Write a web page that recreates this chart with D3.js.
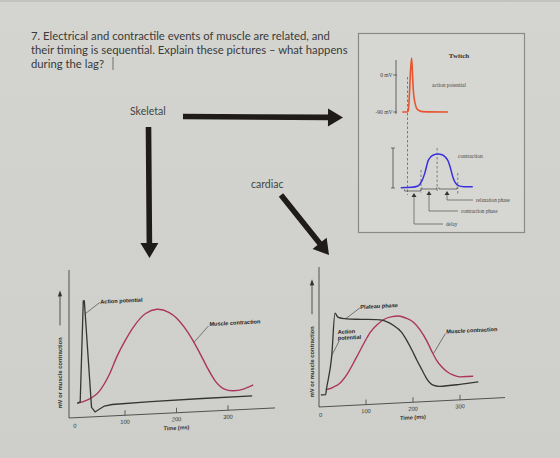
<!DOCTYPE html>
<html>
    <head>
        <script src="https://d3js.org/d3.v7.min.js"></script>
        <style>
            body { margin: 0; background-color: #d2d3ce; }
            svg { display: block; }
        </style>
    </head>
    <body>
        <div id="chart"></div>
        <script>
            // question text
            const titleLines = [
                "7. Electrical and contractile events of muscle are related, and",
                "their timing is sequential. Explain these pictures \u2013 what happens",
                "during the lag?"
            ];

            // twitch panel (top right): time in arbitrary units, AP in mV, contraction 0..1
            const twitchAP = [[3,-90],[9,-90],[11,-87],[12.5,-50],[14,10],[15.5,41],[16.5,10],[17.8,-39],[20,-68],[22.2,-81],[26,-87],[30,-89],[64,-90]];
            const twitchCon = [[1,0.01],[15,0.02],[24,0.06],[29,0.2],[33,0.43],[37.8,0.82],[44.4,0.97],[51,1.0],[56,0.98],[60,0.92],[64,0.8],[66.7,0.63],[71,0.29],[74,0.15],[77.8,0.07],[85,0.04],[97,0.04]];
            const twitchDash = [10, 28, 49.5, 77];
            const phases = [
                { name: "delay", from: 6, to: 28, mark: 18.7 },
                { name: "contraction phase", from: 29, to: 49, mark: 38.7 },
                { name: "relaxation phase", from: 52, to: 76, mark: 62.7 }
            ];

            // skeletal (bottom left): time ms, arbitrary mV / contraction units
            const skelAP = [[8,12],[13,13],[19,97],[21,97],[35,8],[42,4],[50,6],[60,8.5],[75,9.5],[150,10.3],[250,10.8],[347,11]];
            const skelCon = [[7,12],[25,14],[50,21],[70,35],[84,49],[100,62],[116,73],[140,84],[162,87],[185,84],[200,79],[215,71],[230,61],[245,49],[259,37],[275,25],[292,18],[310,16],[330,17],[349,20]];

            // cardiac (bottom right)
            const cardAP = [[4,12],[14,12],[16,18],[27,50],[34,93],[40,89],[55,87],[90,85.5],[130,84],[158,78],[175,71],[187,62],[198,52],[208,42],[219,32],[229,23],[243,16],[257,14.5],[300,15.5],[339,17]];
            const cardCon = [[16,17],[30,19],[45,23],[62,33],[80,48],[95,61],[109,72],[123,79],[137,84],[153,86.5],[169,87],[185,84.5],[201,80],[215,72],[229,61],[240,50],[250,41],[261,34],[272,29],[286,25],[300,23],[328,23]];

            const timeTicks = [100, 200, 300];

            const W = 560, H = 458;
            const svg = d3.select("#chart").append("svg").attr("width", W).attr("height", H);

            const grad = svg.append("defs").append("linearGradient").attr("id", "bg")
                .attr("x1", 0).attr("y1", 0).attr("x2", 0).attr("y2", 1);
            grad.append("stop").attr("offset", 0).attr("stop-color", "#d4d5d0");
            grad.append("stop").attr("offset", 1).attr("stop-color", "#cecfca");
            svg.append("rect").attr("width", W).attr("height", H).attr("fill", "url(#bg)");
            svg.append("rect").attr("width", W).attr("height", 2).attr("fill", "#c2c2be");

            const ink = "#3a3a3a";
            const apBlack = "#353533";
            const crimson = "#ac3460";

            // title
            svg.append("g").selectAll("text").data(titleLines).join("text")
                .attr("x", 31).attr("y", (d, i) => 40 + i * 14)
                .attr("font-family", "Lato, 'Open Sans', sans-serif").attr("font-size", 11.3)
                .attr("fill", ink).text(d => d);
            svg.append("line").attr("x1", 113).attr("x2", 113).attr("y1", 57).attr("y2", 70)
                .attr("stroke", "#555").attr("stroke-width", 0.8);

            // labels + arrows
            const label = (x, y, t) => svg.append("text").attr("x", x).attr("y", y)
                .attr("font-family", "Lato, 'Open Sans', sans-serif").attr("font-size", 10.5)
                .attr("fill", "#444").text(t);
            label(130, 115, "Skeletal");
            label(251, 188, "cardiac");

            function arrow(x1, y1, x2, y2) {
                const a = Math.atan2(y2 - y1, x2 - x1), len = Math.hypot(x2 - x1, y2 - y1);
                const hl = 15, hw = 9, sw = 2.8;
                const p = [[0,-sw],[len-hl,-sw],[len-hl,-hw],[len,0],[len-hl,hw],[len-hl,sw],[0,sw]];
                svg.append("path")
                    .attr("d", "M" + p.map(q => q.join(",")).join("L") + "Z")
                    .attr("transform", `translate(${x1},${y1}) rotate(${a * 180 / Math.PI})`)
                    .attr("fill", "#1f1b19");
            }
            arrow(183, 116.5, 343, 117.5);
            arrow(148.5, 127, 149.5, 258);
            arrow(281, 195, 329, 255);

            // ---------- twitch panel ----------
            svg.append("rect").attr("x", 358.5).attr("y", 33.5).attr("width", 166).attr("height", 199)
                .attr("fill", "#d6d7d2").attr("stroke", "#8a8a86").attr("stroke-width", 1.2);

            const xT = d3.scaleLinear([0, 100], [400, 475]);
            const yMv = d3.scaleLinear([-90, 0], [112, 75]);
            const yC = d3.scaleLinear([0, 1], [188, 154]);
            const serif = "'Liberation Serif', 'DejaVu Serif', serif";
            const tw = svg.append("g");

            tw.append("text").attr("x", 459).attr("y", 57.5).attr("text-anchor", "middle")
                .attr("font-family", serif).attr("font-weight", "bold").attr("font-size", 7)
                .attr("fill", "#333").text("Twitch");

            tw.append("line").attr("x1", 396).attr("x2", 396).attr("y1", 60).attr("y2", 114)
                .attr("stroke", "#444").attr("stroke-width", 0.8);
            [0, -90].forEach(v => {
                tw.append("line").attr("x1", 393).attr("x2", 397).attr("y1", yMv(v)).attr("y2", yMv(v))
                    .attr("stroke", "#444").attr("stroke-width", 0.7);
                tw.append("text").attr("x", 392.5).attr("y", yMv(v) + 2).attr("text-anchor", "end")
                    .attr("font-family", serif).attr("font-size", 5.5).attr("fill", "#444").text(v + " mV");
            });

            tw.append("line").attr("x1", 393).attr("x2", 393).attr("y1", 148).attr("y2", 188)
                .attr("stroke", "#444").attr("stroke-width", 0.8);
            [148, 188].forEach(y => tw.append("line").attr("x1", 391).attr("x2", 395).attr("y1", y).attr("y2", y)
                .attr("stroke", "#444").attr("stroke-width", 0.7));

            // dashed guides
            const dashSpan = [[77, 195], [170, 193], [148, 193], [173, 195]];
            tw.selectAll(".dash").data(twitchDash).join("line")
                .attr("x1", d => xT(d)).attr("x2", d => xT(d))
                .attr("y1", (d, i) => dashSpan[i][0]).attr("y2", (d, i) => dashSpan[i][1])
                .attr("stroke", "#555").attr("stroke-width", 0.7).attr("stroke-dasharray", "2.5,2");

            tw.append("path").datum(twitchAP)
                .attr("d", d3.line().x(d => xT(d[0])).y(d => yMv(d[1])).curve(d3.curveMonotoneX))
                .attr("fill", "none").attr("stroke", "#e8542f").attr("stroke-width", 1.6);
            tw.append("path").datum(twitchCon)
                .attr("d", d3.line().x(d => xT(d[0])).y(d => yC(d[1])).curve(d3.curveMonotoneX))
                .attr("fill", "none").attr("stroke", "#3b30dc").attr("stroke-width", 1.5);

            tw.append("text").attr("x", 432).attr("y", 87).attr("font-family", serif).attr("font-size", 5.5)
                .attr("fill", "#444").text("action potential");
            tw.append("text").attr("x", 458).attr("y", 158).attr("font-family", serif).attr("font-size", 5.5)
                .attr("fill", "#444").text("contraction");

            const bracketY = [191, 189, 189], leadY = [224, 211, 200], leadX = [443, 458, 473];
            phases.forEach((p, i) => {
                const by = bracketY[i], mx = xT(p.mark);
                tw.append("path")
                    .attr("d", `M${xT(p.from)},${by - 1.5}V${by}H${xT(p.to)}V${by - 1.5}`)
                    .attr("fill", "none").attr("stroke", "#444").attr("stroke-width", 0.7);
                tw.append("path").attr("d", `M${mx},${by + 2}L${mx - 2.5},${by + 6}L${mx + 2.5},${by + 6}Z`)
                    .attr("fill", "#333");
                tw.append("path").attr("d", `M${mx},${by + 6}V${leadY[i]}H${leadX[i]}`)
                    .attr("fill", "none").attr("stroke", "#555").attr("stroke-width", 0.7);
                tw.append("text").attr("x", leadX[i] + 3).attr("y", leadY[i] + 1.8)
                    .attr("font-family", serif).attr("font-size", 5.2).attr("fill", "#444").text(p.name);
            });

            // ---------- bottom charts ----------
            const sans = "'Liberation Sans', Arial, sans-serif";
            function panel(opt) {
                const g = svg.append("g").attr("transform", `translate(${opt.ox},${opt.oy}) skewY(${opt.skew})`);
                const x = d3.scaleLinear([0, 400], [opt.x0, opt.x0 + 400 * opt.kx]);
                const y = d3.scaleLinear([0, 100], [0, -100 * opt.ky]);

                g.append("line").attr("x1", 0).attr("x2", 0).attr("y1", 0).attr("y2", -opt.h)
                    .attr("stroke", "#444").attr("stroke-width", 0.9);
                g.append("line").attr("x1", 0).attr("x2", opt.w).attr("y1", 0).attr("y2", 0)
                    .attr("stroke", "#444").attr("stroke-width", 0.9);
                g.selectAll(".tk").data(timeTicks).join("line")
                    .attr("x1", d => x(d)).attr("x2", d => x(d)).attr("y1", 0).attr("y2", -5)
                    .attr("stroke", "#444").attr("stroke-width", 0.8);
                g.selectAll(".tl").data([0].concat(timeTicks)).join("text")
                    .attr("x", d => x(d) + (d === 0 ? 1.5 : 0)).attr("y", d => d === 0 ? 10 : 8.5)
                    .attr("text-anchor", "middle").attr("font-family", sans).attr("font-size", 5.8)
                    .attr("fill", "#333").text(d => d);
                g.append("text").attr("x", x(200)).attr("y", 17).attr("text-anchor", "middle")
                    .attr("font-family", sans).attr("font-weight", "bold").attr("font-size", 5.5)
                    .attr("fill", "#333").text("Time (ms)");

                // y label with arrow
                const yl = g.append("g").attr("transform", `translate(${opt.ylx},${opt.yly}) rotate(-90)`);
                yl.append("text").attr("x", 0).attr("y", 2).attr("font-family", sans).attr("font-weight", "bold")
                    .attr("font-size", 5.8).attr("fill", "#333").text("mV or muscle contraction");
                yl.append("line").attr("x1", 83).attr("x2", 114).attr("y1", 0).attr("y2", 0)
                    .attr("stroke", "#333").attr("stroke-width", 0.8);
                yl.append("path").attr("d", "M118,0L112,-2.2L112,2.2Z").attr("fill", "#333");

                const line = d3.line().x(d => x(d[0])).y(d => y(d[1])).curve(d3.curveMonotoneX);
                g.append("path").datum(opt.con).attr("d", line)
                    .attr("fill", "none").attr("stroke", crimson).attr("stroke-width", 1.4);
                g.append("path").datum(opt.ap).attr("d", opt.apLinear ? d3.line().x(d => x(d[0])).y(d => y(d[1])) : line)
                    .attr("fill", "none").attr("stroke", apBlack).attr("stroke-width", 1.3);

                opt.notes.forEach(n => {
                    g.append("line").attr("x1", x(n.from[0])).attr("y1", y(n.from[1]))
                        .attr("x2", x(n.to[0])).attr("y2", y(n.to[1]))
                        .attr("stroke", "#333").attr("stroke-width", 0.6);
                    g.append("text").attr("x", x(n.at[0])).attr("y", y(n.at[1]))
                        .attr("font-family", sans).attr("font-weight", "bold").attr("font-size", 5.6)
                        .attr("fill", "#222")
                        .selectAll("tspan").data(n.text).join("tspan")
                        .attr("x", x(n.at[0])).attr("dy", (d, i) => i ? 6 : 0).text(d => d);
                });
            }

            panel({
                ox: 69, oy: 418, skew: -2.8, x0: 4.5, kx: 0.515, ky: 1.2, w: 206, h: 148,
                ylx: -9, yly: -10, ap: skelAP, con: skelCon, apLinear: true,
                notes: [
                    { text: ["Action potential"], at: [52, 94], from: [22, 86], to: [51, 95] },
                    { text: ["Muscle contraction"], at: [264, 71], from: [234, 58], to: [262, 71] }
                ]
            });
            panel({
                ox: 319, oy: 407, skew: -2.9, x0: 0, kx: 0.47, ky: 1.0, w: 186, h: 140,
                ylx: -7, yly: -10, ap: cardAP, con: cardCon, apLinear: false,
                notes: [
                    { text: ["Plateau phase"], at: [88, 96], from: [57, 87], to: [87, 97] },
                    { text: ["Action", "potential"], at: [40, 72], from: [27, 51], to: [43, 65] },
                    { text: ["Muscle contraction"], at: [271, 67], from: [244, 48], to: [269, 67] }
                ]
            });
        </script>
    </body>
</html>
